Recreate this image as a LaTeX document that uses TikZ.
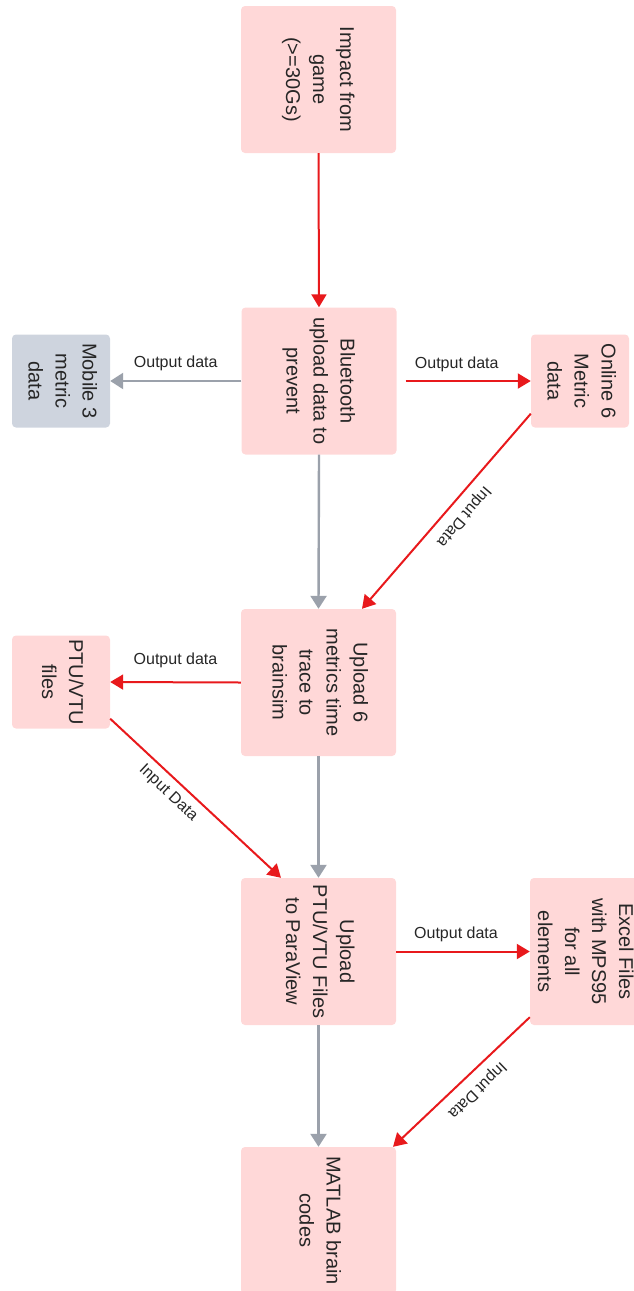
\documentclass[tikz,border=0pt]{standalone}
\usepackage{fontspec}
\setmainfont{Liberation Sans}
\usetikzlibrary{arrows.meta}
\definecolor{boxpink}{HTML}{FFD8D8}
\definecolor{boxgray}{HTML}{CED4DE}
\definecolor{linered}{HTML}{E8191C}
\definecolor{linegray}{HTML}{9BA1AB}
\definecolor{txt}{HTML}{262626}
\newcommand\rtxt[1]{\rotatebox{-90}{\begin{tabular}{@{}c@{}}#1\end{tabular}}}
\tikzset{
  box/.style={rectangle, rounded corners=4pt, fill=boxpink, draw=none, inner sep=0pt,
    text=txt, font=\fontsize{20}{27}\selectfont},
  bigbox/.style={box, minimum width=155pt, minimum height=147pt},
  smallbox/.style={box, minimum width=98pt, minimum height=93pt},
  redarrow/.style={draw=linered, line width=2pt, -{Triangle[length=13pt,width=15pt]}},
  grayarrow/.style={draw=linegray, line width=2.4pt, -{Triangle[length=13pt,width=16pt]}},
  lbl/.style={inner sep=0pt, text=txt, font=\fontsize{16}{19}\selectfont},
}
\begin{document}
\begin{tikzpicture}[x=1pt,y=-1pt]
\useasboundingbox (0,0) rectangle (634,1291);
% boxes
\node[bigbox] (imp) at (318.5,79.5) {\rtxt{Impact from\\game\\(>=30Gs)}};
\node[bigbox] (blu) at (319,381) {\rtxt{Bluetooth\\upload data to\\prevent}};
\node[smallbox, fill=boxgray] (mob) at (61,381) {\rtxt{Mobile 3\\metric\\data}};
\node[smallbox] (onl) at (580,381) {\rtxt{Online 6\\Metric\\data}};
\node[bigbox] (up6) at (318.5,682.5) {\rtxt{Upload 6\\metrics time\\trace to\\brainsim}};
\node[smallbox] (ptu) at (61,682) {\rtxt{PTU/VTU\\files}};
\node[bigbox] (upp) at (318.5,951.5) {\rtxt{Upload\\PTU/VTU Files\\to ParaView}};
\node[bigbox, minimum width=108pt] (exc) at (584,951.5) {\rtxt{Excel Files\\with MPS95\\for all\\elements}};
\node[bigbox] (mat) at (318.5,1220.5) {\rtxt{MATLAB brain\\codes}};
% connectors
\draw[redarrow] (imp.south) -- (blu.north);
\draw[grayarrow] (blu.west) -- (mob.east)
  node[lbl, midway, above=8.5pt] {Output data};
\draw[redarrow, shorten <=9pt] (blu.east) -- (onl.west)
  node[lbl, midway, above=8.5pt, xshift=-7pt] {Output data};
\draw[grayarrow] (blu.south) -- (up6.north);
\draw[redarrow] ([yshift=14pt]onl.south west) -- ([xshift=43.5pt]up6.north)
  node[lbl, midway, xshift=17pt, yshift=-5pt, rotate=-130.6] {Input Data};
\draw[redarrow] (up6.west) -- (ptu.east)
  node[lbl, midway, above=13pt] {Output data};
\draw[grayarrow] (up6.south) -- (upp.north);
\draw[redarrow] ([yshift=10pt]ptu.south east) -- ([xshift=-37.5pt]upp.north)
  node[lbl, midway, xshift=-27.5pt, yshift=5pt, rotate=-43.1] {Input Data};
\draw[redarrow] (upp.east) -- (exc.west)
  node[lbl, midway, above=8.5pt, xshift=-7pt] {Output data};
\draw[grayarrow] (upp.south) -- (mat.north);
\draw[redarrow] ([yshift=8pt]exc.south west) -- ([xshift=74.5pt]mat.north)
  node[lbl, midway, xshift=15.5pt, yshift=-8pt, rotate=-136] {Input Data};
\end{tikzpicture}
\end{document}
